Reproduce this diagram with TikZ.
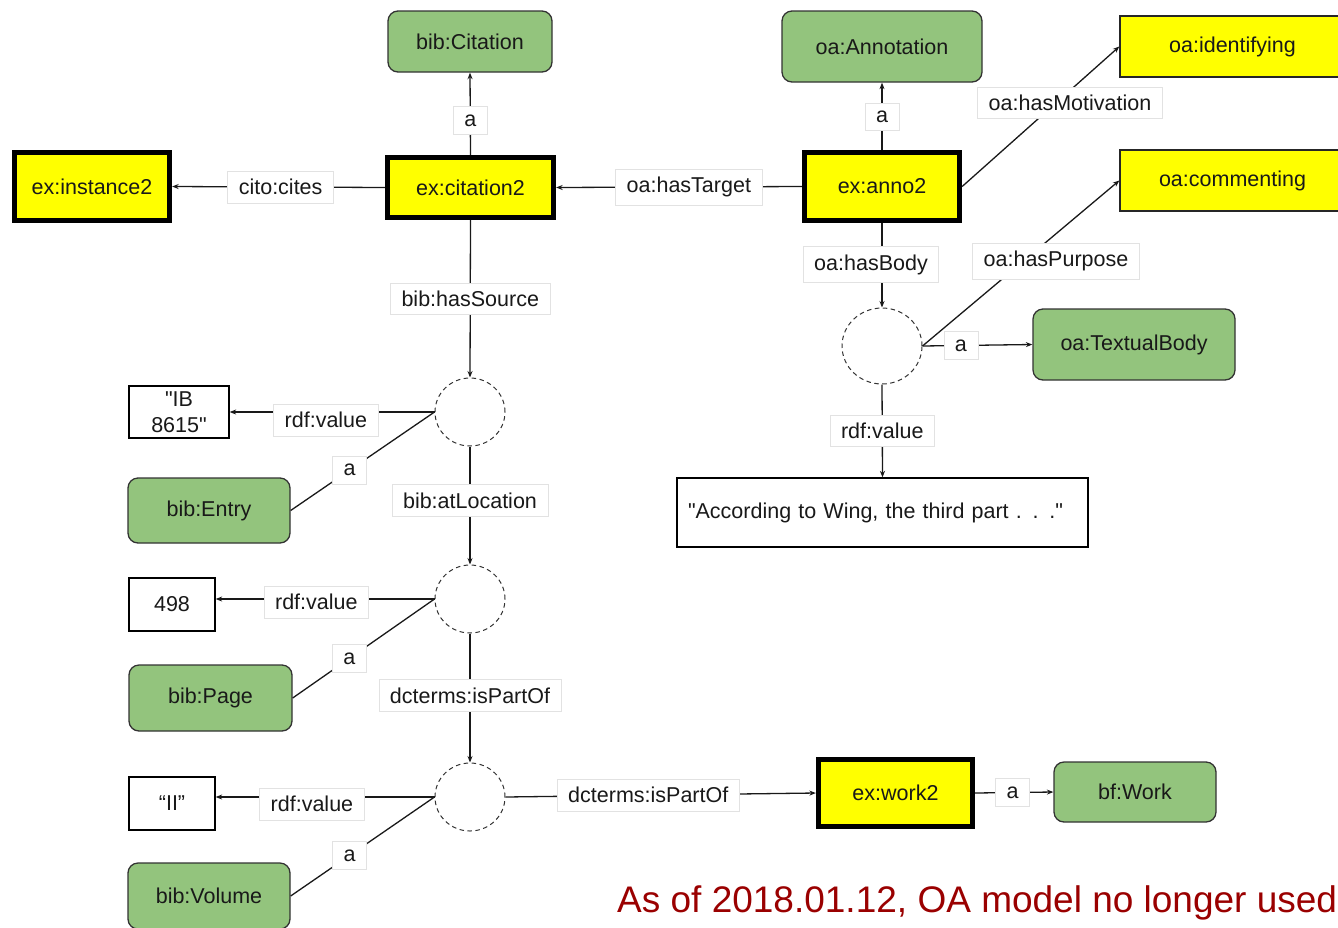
\documentclass[tikz,border=0pt]{standalone}
\usepackage{fontspec}
\setmainfont{Liberation Sans}[Ligatures=TeXOff]
\usetikzlibrary{arrows.meta,shapes.geometric}
\definecolor{clsgreen}{HTML}{93C47D}
\definecolor{resyellow}{HTML}{FFFF00}
\definecolor{notered}{HTML}{9A0000}
\definecolor{lblgray}{HTML}{E2E2E2}
\begin{document}
\begin{tikzpicture}[x=1pt,y=-1pt,
  every node/.style={font=\fontsize{21.5}{25}\selectfont, inner sep=0pt, text=black!90},
  cls/.style={draw=black!80, line width=1.3pt, fill=clsgreen, rounded corners=10pt},
  res/.style={draw=black, line width=4.8pt, fill=resyellow},
  val/.style={draw=black!85, line width=1.3pt, fill=resyellow},
  lit/.style={draw=black, line width=1.3pt, fill=white},
  blank/.style={ellipse, draw=black!80, line width=1pt, dash pattern=on 4.5pt off 3.5pt},
  lbl/.style={fill=white, draw=lblgray, line width=0.8pt, inner xsep=11pt, inner ysep=8pt},
  conn/.style={draw=black!90, line width=1.3pt},
  arr/.style={conn, -{Stealth[length=6.5pt,width=5pt]}},
]
\useasboundingbox (0,0) rectangle (1338,927);
\clip (0,0) rectangle (1338,927);

% ---- citation part ----
\node[cls, minimum width=164pt, minimum height=61pt] (cit) at (470,41.5) {bib:Citation};
\node[res, minimum width=166.5pt, minimum height=60.5pt] (ctn) at (470.5,187.5) {ex:citation2};
\node[res, minimum width=155.5pt, minimum height=68.5pt] (inst) at (92,186.5) {ex:instance2};

% ---- annotation part ----
\node[cls, minimum width=200pt, minimum height=71pt] (ann) at (882,46.5) {oa:Annotation};
\node[res, minimum width=155.5pt, minimum height=68.5pt] (anno) at (882,186.5) {ex:anno2};
\node[val, minimum width=225pt, minimum height=61pt] (ident) at (1232.5,46.5) {oa:identifying};
\node[val, minimum width=225pt, minimum height=61pt] (comm) at (1232.5,180.5) {oa:commenting};
\node[blank, minimum width=80pt, minimum height=76pt] (body) at (882,346) {};
\node[cls, minimum width=202pt, minimum height=71pt] (tbody) at (1134,344.5) {oa:TextualBody};
\node[lit, text width=389pt, align=left, inner xsep=11pt, minimum height=69pt] (quote) at (882.5,512.5)
  {"According to Wing, the third part . . ."};

% ---- location chain ----
\node[blank, minimum width=70pt, minimum height=68pt] (src) at (470,412) {};
\node[lit, minimum width=100pt, minimum height=52pt, align=center, font=\fontsize{21.5}{26}\selectfont] (ib) at (179,412) {"IB\\8615"};
\node[cls, minimum width=162pt, minimum height=65pt] (entry) at (209,510.5) {bib:Entry};

\node[blank, minimum width=70pt, minimum height=68pt] (loc) at (470,599) {};
\node[lit, minimum width=86pt, minimum height=53pt] (pg) at (172,604.5) {498};
\node[cls, minimum width=163pt, minimum height=66pt] (page) at (210.5,698) {bib:Page};

\node[blank, minimum width=70pt, minimum height=68pt] (part) at (470,797) {};
\node[lit, minimum width=86pt, minimum height=53pt] (vol) at (172,803.5) {“II”};
\node[cls, minimum width=162pt, minimum height=66pt] (volume) at (209,896) {bib:Volume};

\node[res, minimum width=154.5pt, minimum height=67.5pt] (work) at (895.5,793) {ex:work2};
\node[cls, minimum width=162pt, minimum height=60pt] (bfw) at (1135,792) {bf:Work};

% ---- connectors ----
\draw[arr] (ctn.north) -- (cit.south) node[lbl, pos=0.42] {a};
\draw[arr] (ctn.west) -- (inst.east) node[lbl, pos=0.49] {cito:cites};
\draw[arr] (anno.west) -- (ctn.east) node[lbl, pos=0.46] {oa:hasTarget};
\draw[arr] (anno.north) -- (ann.south) node[lbl, pos=0.49] {a};
\draw[arr] (anno.east) -- (ident.west);
\node[lbl] (motl) at (1070,103) {oa:hasMotivation};
\draw[arr] (anno.south) -- (body.north) node[lbl, pos=0.49, xshift=-11pt] {oa:hasBody};
\draw[arr] (body.east) -- (comm.west);
\node[lbl] (purl) at (1056,261) {oa:hasPurpose};
\draw[arr] (body.east) -- (tbody.west) node[lbl, pos=0.35] {a};
\draw[arr] (body.south) -- (quote.north) node[lbl, pos=0.5] {rdf:value};

\draw[arr] (ctn.south) -- (src.north) node[lbl, pos=0.5] {bib:hasSource};
\draw[arr] (src.west) -- (ib.east) node[lbl, pos=0.53, yshift=-8pt] {rdf:value};
\draw[conn] (src.west) -- (entry.east) node[lbl, pos=0.59] {a};
\draw[arr] (src.south) -- (loc.north) node[lbl, pos=0.46] {bib:atLocation};

\draw[arr] (loc.west) -- (loc.west -| pg.east) node[lbl, pos=0.54, yshift=-3pt] {rdf:value};
\draw[conn] (loc.west) -- (page.east) node[lbl, pos=0.6] {a};
\draw[arr] (loc.south) -- (part.north) node[lbl, pos=0.48] {dcterms:isPartOf};

\draw[arr] (part.west) -- (part.west -| vol.east) node[lbl, pos=0.56, yshift=-7pt] {rdf:value};
\draw[conn] (part.west) -- (volume.east) node[lbl, pos=0.59] {a};
\draw[arr] (part.east) -- (work.west) node[lbl, pos=0.46] {dcterms:isPartOf};
\draw[arr] (work.east) -- (bfw.west) node[lbl, pos=0.48] {a};

% ---- note ----
\node[anchor=base west, text=notered, font=\fontsize{37}{42}\selectfont] (note) at (617,912)
  {As of 2018.01.12, OA model no longer used};
\end{tikzpicture}
\end{document}
